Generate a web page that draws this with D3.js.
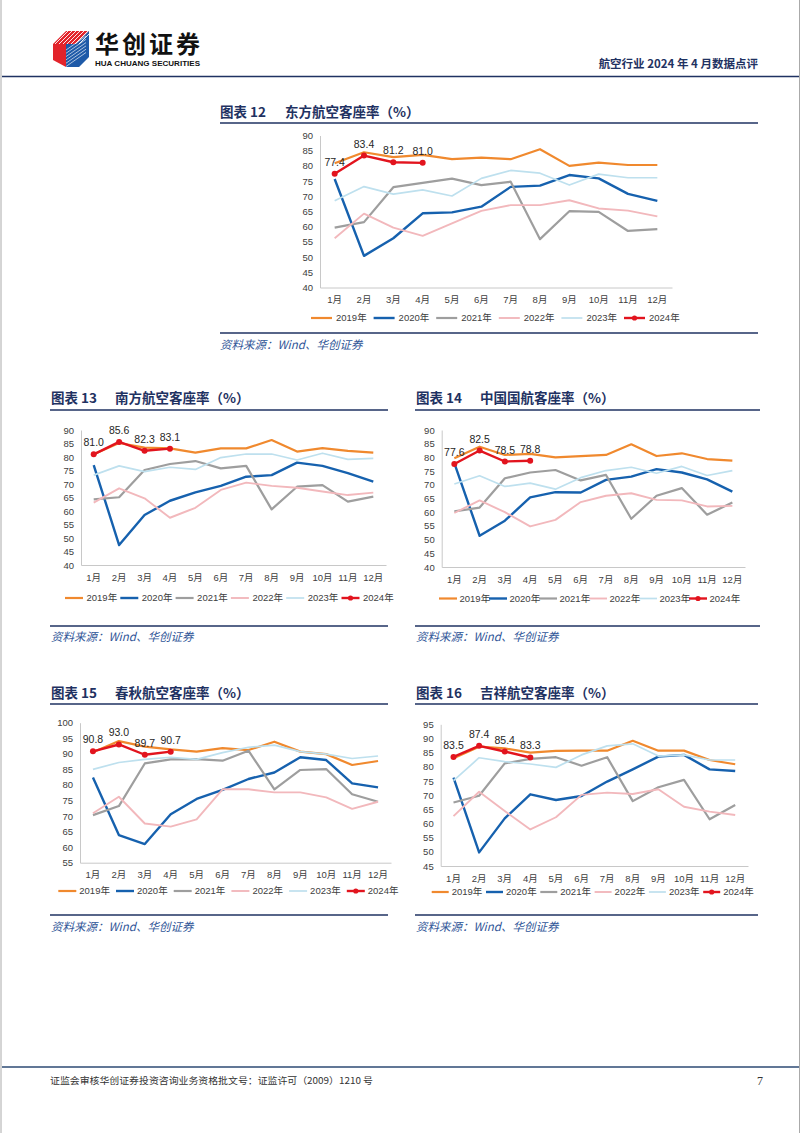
<!DOCTYPE html>
<html><head><meta charset="utf-8">
<script src="https://cdn.jsdelivr.net/npm/d3@7"></script>
<style>body{margin:0;background:#fff}svg{display:block}</style>
</head><body>
<svg id="page" width="802" height="1133"></svg>
<script>
// ---------- data ----------
const months = ["1月","2月","3月","4月","5月","6月","7月","8月","9月","10月","11月","12月"];
const years = ["2019年","2020年","2021年","2022年","2023年","2024年"];

// 东方航空客座率 (%), order: 2019..2024
const ceaSeries = [
  [80.9,84.5,82.9,83.6,82.2,82.7,82.2,85.5,80.0,81.1,80.3,80.3],
  [75.7,50.4,56.2,64.4,64.7,66.6,73.1,73.5,77.0,75.9,70.8,68.5],
  [59.7,61.5,73.0,74.4,75.8,73.7,74.8,55.9,65.1,64.9,58.6,59.2],
  [56.2,64.3,59.7,57.0,61.1,65.2,67.1,67.1,68.7,66.0,65.3,63.4],
  [68.5,73.2,70.7,72.1,70.1,75.9,78.5,77.6,73.7,77.3,76.1,76.1],
  [77.4,83.4,81.2,81.0]
];
// 南方航空客座率 (%)
const cszSeries = [
  [81.0,85.2,83.5,83.2,81.6,83.2,83.2,86.3,82.0,83.3,82.3,81.6],
  [77.0,47.4,58.5,63.8,66.9,69.3,72.7,73.3,77.9,76.7,74.0,70.9],
  [64.3,65.1,75.2,77.4,78.5,75.8,76.7,60.6,69.0,69.6,63.5,65.3],
  [63.1,68.4,64.7,57.5,61.2,67.8,70.5,69.3,68.6,67.2,65.9,66.8],
  [73.3,76.7,74.6,76.2,75.4,79.8,81.1,81.1,78.9,81.4,79.1,79.5],
  [81.0,85.6,82.3,83.1]
];
// 中国国航客座率 (%)
const airChinaSeries = [
  [79.7,83.9,80.9,81.3,80.0,80.5,80.9,84.8,80.5,81.5,79.4,78.8],
  [77.9,51.4,56.9,65.4,67.3,67.2,71.8,73.0,75.7,74.5,72.0,67.5],
  [60.3,61.7,72.4,74.5,75.4,71.6,73.6,57.6,66.0,68.8,59.1,63.5],
  [59.7,64.3,60.0,54.8,57.2,63.7,66.0,66.9,64.5,64.3,62.1,62.3],
  [70.3,73.3,69.4,70.6,68.4,72.6,75.2,76.4,74.2,76.7,73.4,75.2],
  [77.6,82.5,78.5,78.8]
];
// 春秋航空客座率 (%)
const springSeries = [
  [90.5,94.1,92.3,91.4,90.7,91.8,91.2,93.9,90.7,89.9,86.4,87.7],
  [82.4,63.9,61.0,70.6,75.5,78.4,81.9,84.0,88.9,88.0,80.5,79.2],
  [70.3,73.2,86.9,88.2,88.3,87.8,91.0,78.6,84.8,85.1,77.0,74.6],
  [70.9,76.2,67.6,66.6,68.9,78.6,78.6,77.6,77.6,76.0,72.3,74.6],
  [85.0,87.2,88.2,88.9,88.2,90.4,92.1,92.8,90.7,89.9,88.5,89.3],
  [90.8,93.0,89.7,90.7]
];
// 吉祥航空客座率 (%)
const junyaoSeries = [
  [83.0,87.1,86.5,85.0,85.6,85.7,85.7,89.2,85.7,85.7,82.4,80.9],
  [76.2,49.8,61.8,70.3,68.3,69.7,74.8,79.1,83.6,84.2,79.1,78.5],
  [67.4,69.8,81.2,82.8,83.4,80.4,83.4,67.9,72.8,75.4,61.5,66.5],
  [62.6,71.2,64.4,57.9,62.2,70.1,70.9,70.4,72.1,65.9,64.2,63.0],
  [75.1,83.2,81.8,81.0,79.8,84.2,87.4,88.1,83.8,84.2,82.4,82.4],
  [83.5,87.4,85.4,83.3]
];
const ticks40to90 = [40,45,50,55,60,65,70,75,80,85,90];
const ticks55to100 = [55,60,65,70,75,80,85,90,95,100];
const ticks45to95 = [45,50,55,60,65,70,75,80,85,90,95];

// ---------- styles ----------
const seriesColor = ["#F0892E","#1661AE","#9E9E9E","#F2B8BC","#BEE0EE","#E2141E"];
const seriesWidth = [2.2,2.4,2.2,1.9,1.7,2.4];
const NAVY = "#1F3262";
const LATIN = "'Liberation Sans','Noto Sans CJK SC',sans-serif";
const CJK = "'Noto Sans CJK SC','Liberation Sans',sans-serif";

const svg = d3.select("#page");

// page border
svg.append("line").attr("x1",1).attr("x2",1).attr("y1",0).attr("y2",1133).attr("stroke","#AAAAAA").attr("stroke-width",1);
svg.append("line").attr("x1",799.5).attr("x2",799.5).attr("y1",0).attr("y2",1133).attr("stroke","#AAAAAA").attr("stroke-width",1);

// ---------- header ----------
const logo = svg.append("g");
logo.append("path").attr("d","M53,44 L66,31 L89,31 L76,44 Z").attr("fill","#E2242B");
logo.append("path").attr("d","M53,44 L66,44 L66,67 L53,60 Z").attr("fill","#E2242B");
logo.append("path").attr("d","M66,44 L76,44 L89,31 L89,57 L79,67 L66,67 Z").attr("fill","#1E5AA8");
for (let i=0;i<7;i++){
  logo.append("line").attr("x1",55+i*4).attr("y1",44).attr("x2",68+i*4).attr("y2",31)
    .attr("stroke","#fff").attr("stroke-width",0.9);
}
for (let i=0;i<6;i++){
  logo.append("line").attr("x1",66).attr("y1",50+i*3.3).attr("x2",86).attr("y2",36+i*3.3)
    .attr("stroke","#fff").attr("stroke-width",0.8).attr("opacity",0.8);
}
logo.append("text").attr("x",95).attr("y",53).text("华创证券")
  .attr("font-family",CJK).attr("font-weight","bold").attr("font-size",24)
  .attr("textLength",105).attr("fill","#111");
logo.append("text").attr("x",95).attr("y",66).text("HUA CHUANG SECURITIES")
  .attr("font-family",LATIN).attr("font-weight","bold").attr("font-size",7.5)
  .attr("textLength",105).attr("lengthAdjust","spacingAndGlyphs").attr("fill","#111");
svg.append("text").attr("x",758).attr("y",68).attr("text-anchor","end")
  .text("航空行业 2024 年 4 月数据点评")
  .attr("font-family",CJK).attr("font-weight","bold").attr("font-size",11.5).attr("fill",NAVY);
svg.append("line").attr("x1",2).attr("x2",799).attr("y1",76.5).attr("y2",76.5)
  .attr("stroke",NAVY).attr("stroke-width",1.6);

// ---------- footer ----------
svg.append("line").attr("x1",2).attr("x2",799).attr("y1",1067).attr("y2",1067)
  .attr("stroke","#2D4A73").attr("stroke-width",1.6);
svg.append("text").attr("x",50).attr("y",1084)
  .text("证监会审核华创证券投资咨询业务资格批文号：证监许可（2009）1210 号")
  .attr("font-family",CJK).attr("font-size",9.5).attr("fill","#333")
  .attr("textLength",323).attr("lengthAdjust","spacingAndGlyphs");
svg.append("text").attr("x",757).attr("y",1085).text("7")
  .attr("font-family","'Liberation Serif',serif").attr("font-size",12).attr("fill","#333");

// ---------- chart drawer ----------
function drawChart(c){
  const g = svg.append("g");
  g.append("text").attr("x",c.tx).attr("y",c.ty).text(c.num)
    .attr("font-family",CJK).attr("font-weight","bold").attr("font-size",13.5).attr("fill",NAVY);
  g.append("text").attr("x",c.tx+c.tgap).attr("y",c.ty).text(c.title)
    .attr("font-family",CJK).attr("font-weight","bold").attr("font-size",13.5).attr("fill",NAVY);
  g.append("line").attr("x1",c.l0).attr("x2",c.l1).attr("y1",c.uy).attr("y2",c.uy)
    .attr("stroke",NAVY).attr("stroke-width",1.5);
  g.append("line").attr("x1",c.l0).attr("x2",c.l1).attr("y1",c.by).attr("y2",c.by)
    .attr("stroke",NAVY).attr("stroke-width",1.5);
  g.append("text").attr("x",c.tx).attr("y",c.sy).text("资料来源：Wind、华创证券")
    .attr("font-family",CJK).attr("font-style","italic").attr("font-size",11.5)
    .attr("fill","#2F5597");

  const x = d3.scaleBand().domain(months).range([c.x0,c.x1]);
  const cx = m => x(m) + x.bandwidth()/2;
  const y = d3.scaleLinear().domain([c.ticks[0], c.ticks[c.ticks.length-1]]).range([c.yb,c.yt]);

  const ya = g.append("g").attr("transform",`translate(${c.x0},0)`)
    .call(d3.axisLeft(y).tickValues(c.ticks).tickSize(0).tickSizeOuter(0).tickPadding(7));
  const xa = g.append("g").attr("transform",`translate(0,${c.yb})`)
    .call(d3.axisBottom(x).tickSize(0).tickSizeOuter(0).tickPadding(9));
  [ya,xa].forEach(a=>{
    a.select(".domain").attr("stroke","#C8C8C8").attr("stroke-width",1);
    a.selectAll("text").attr("font-family",LATIN).attr("font-size",9.5).attr("fill","#404040");
  });

  const line = d3.line().x((d,i)=>cx(months[i])).y(d=>y(d));
  c.series.forEach((s,k)=>{
    g.append("path").datum(s).attr("d",line).attr("fill","none")
      .attr("stroke",seriesColor[k]).attr("stroke-width",seriesWidth[k])
      .attr("stroke-linejoin","round");
  });
  const last = c.series[5];
  g.selectAll("circle.pt").data(last).enter().append("circle")
    .attr("cx",(d,i)=>cx(months[i])).attr("cy",d=>y(d)).attr("r",3)
    .attr("fill",seriesColor[5]);
  g.selectAll("text.lbl").data(last).enter().append("text")
    .attr("x",(d,i)=>cx(months[i])).attr("y",d=>y(d)-8).attr("text-anchor","middle")
    .text(d=>d.toFixed(1))
    .attr("font-family",LATIN).attr("font-size",10.5).attr("fill","#262626");

  years.forEach((yr,i)=>{
    const lx = c.legX + i*c.legStep;
    g.append("line").attr("x1",lx).attr("x2",lx+c.legLine).attr("y1",c.legY).attr("y2",c.legY)
      .attr("stroke",seriesColor[i]).attr("stroke-width",seriesWidth[i]);
    if (i===5) g.append("circle").attr("cx",lx+c.legLine/2).attr("cy",c.legY).attr("r",2.6).attr("fill",seriesColor[5]);
    g.append("text").attr("x",lx+c.legText).attr("y",c.legY).attr("dy","0.35em").text(yr)
      .attr("font-family",LATIN).attr("font-size",9.5).attr("fill","#404040");
  });
}

drawChart({num:"图表 12",title:"东方航空客座率（%）",tx:220,tgap:65,ty:117,l0:220,l1:758,uy:123,by:333,sy:349,
  x0:320,x1:672,yt:135.5,yb:287.5,ticks:ticks40to90,series:ceaSeries,
  legX:311,legStep:62.6,legLine:21,legText:25,legY:318});
drawChart({num:"图表 13",title:"南方航空客座率（%）",tx:51,tgap:64,ty:403,l0:50,l1:388,uy:410,by:626,sy:641,
  x0:81,x1:386,yt:430,yb:565,ticks:ticks40to90,series:cszSeries,
  legX:65,legStep:55.3,legLine:18,legText:21.5,legY:598});
drawChart({num:"图表 14",title:"中国国航客座率（%）",tx:416,tgap:64,ty:403,l0:415,l1:760,uy:410,by:626,sy:641,
  x0:441.7,x1:745,yt:430,yb:567,ticks:ticks40to90,series:airChinaSeries,
  legX:439,legStep:50,legLine:18,legText:20.5,legY:598.5});
drawChart({num:"图表 15",title:"春秋航空客座率（%）",tx:51,tgap:64,ty:698,l0:50,l1:388,uy:704,by:915,sy:931,
  x0:80,x1:391,yt:722.7,yb:862.7,ticks:ticks55to100,series:springSeries,
  legX:58.3,legStep:57.7,legLine:18,legText:21,legY:891});
drawChart({num:"图表 16",title:"吉祥航空客座率（%）",tx:416,tgap:64,ty:698,l0:415,l1:758,uy:704,by:915,sy:931,
  x0:440.7,x1:748,yt:724.3,yb:866,ticks:ticks45to95,series:junyaoSeries,
  legX:431.7,legStep:54.3,legLine:17,legText:20,legY:892});
</script>
</body></html>
